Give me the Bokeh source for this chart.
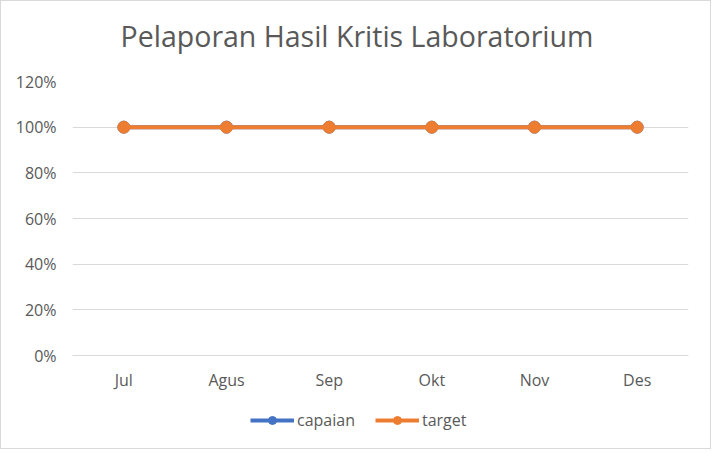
from bokeh.plotting import figure
from bokeh.layouts import column
from bokeh.models import FactorRange, Range1d, Legend, LegendItem, NumeralTickFormatter, Label
from bokeh.embed import file_html
from bokeh.resources import INLINE

title_text = "Pelaporan Hasil Kritis Laboratorium"
months = ["Jul", "Agus", "Sep", "Okt", "Nov", "Des"]
capaian = [1.0, 1.0, 1.0, 1.0, 1.0, 1.0]
target = [1.0, 1.0, 1.0, 1.0, 1.0, 1.0]
y_ticks = [0, 0.2, 0.4, 0.6, 0.8, 1.0, 1.2]

FONT = "Open Sans"
TXT = "#595959"
BLUE = "#4472C4"
ORANGE = "#ED7D31"
W = 709
ML, MR = 71, 22
FRAME_W = W - ML - MR
TITLE_X = (355.5 - ML) / FRAME_W   # centre of the whole chart box, in frame fraction


def blank(fig):
    fig.axis.visible = False
    fig.grid.grid_line_color = None
    fig.outline_line_color = None
    return fig


# title strip
tf = blank(figure(width=W, height=69, x_range=Range1d(0, 1), y_range=Range1d(0, 1),
                  output_backend="svg", toolbar_location=None,
                  min_border_left=ML, min_border_right=MR, min_border_top=0, min_border_bottom=0))
tf.add_layout(Label(x=TITLE_X, y=0.5, text=title_text, text_align="center", text_baseline="middle",
                    text_font=FONT, text_font_size="28.5px", text_color=TXT))

# main chart
p = figure(width=W, height=325, x_range=FactorRange(*months), y_range=Range1d(0, 1.2),
           output_backend="svg", toolbar_location=None,
           min_border_left=ML, min_border_right=MR, min_border_top=11, min_border_bottom=40)
p.outline_line_color = None
p.background_fill_color = "white"

p.line(months, capaian, line_color=BLUE, line_width=4)
p.scatter(months, capaian, size=12, fill_color=BLUE, line_color=BLUE)
p.line(months, target, line_color=ORANGE, line_width=4)
p.scatter(months, target, size=12, fill_color=ORANGE, line_color=ORANGE)

p.xgrid.grid_line_color = None
p.ygrid.grid_line_color = "#d9d9d9"
p.ygrid.grid_line_width = 1
p.yaxis.ticker = y_ticks
p.yaxis.formatter = NumeralTickFormatter(format="0%")
p.yaxis.axis_line_color = None
p.yaxis.major_tick_line_color = None
p.yaxis.minor_tick_line_color = None
p.yaxis.major_label_standoff = 10
p.xaxis.axis_line_color = "#d9d9d9"
p.xaxis.major_tick_line_color = None
p.xaxis.minor_tick_line_color = None
p.xaxis.major_label_standoff = 7
for ax in (p.xaxis, p.yaxis):
    ax.major_label_text_font = FONT
    ax.major_label_text_font_size = "16px"
    ax.major_label_text_color = TXT

# legend strip (series drawn outside its visible range; only the legend shows)
lf = blank(figure(width=W, height=53, x_range=FactorRange(*months), y_range=Range1d(2, 3),
                  output_backend="svg", toolbar_location=None,
                  min_border_left=ML, min_border_right=MR, min_border_top=0, min_border_bottom=0))
ll1 = lf.line(months, capaian, line_color=BLUE, line_width=4)
ls1 = lf.scatter(months, capaian, size=12, fill_color=BLUE, line_color=BLUE)
ll2 = lf.line(months, target, line_color=ORANGE, line_width=4)
ls2 = lf.scatter(months, target, size=12, fill_color=ORANGE, line_color=ORANGE)

legend = Legend(items=[LegendItem(label="capaian", renderers=[ll1, ls1]),
                       LegendItem(label="target", renderers=[ll2, ls2])],
                orientation="horizontal", location=(178, 17),
                label_text_font=FONT, label_text_font_size="16px", label_text_color=TXT,
                border_line_color=None, background_fill_alpha=0,
                glyph_width=44, spacing=20, padding=2, margin=0,
                label_standoff=3)
lf.add_layout(legend, "center")

layout = column(tf, p, lf, spacing=0)
layout.styles = {"border": "1px solid #d9d9d9"}

open("out.html", "w").write(file_html(layout, INLINE))
